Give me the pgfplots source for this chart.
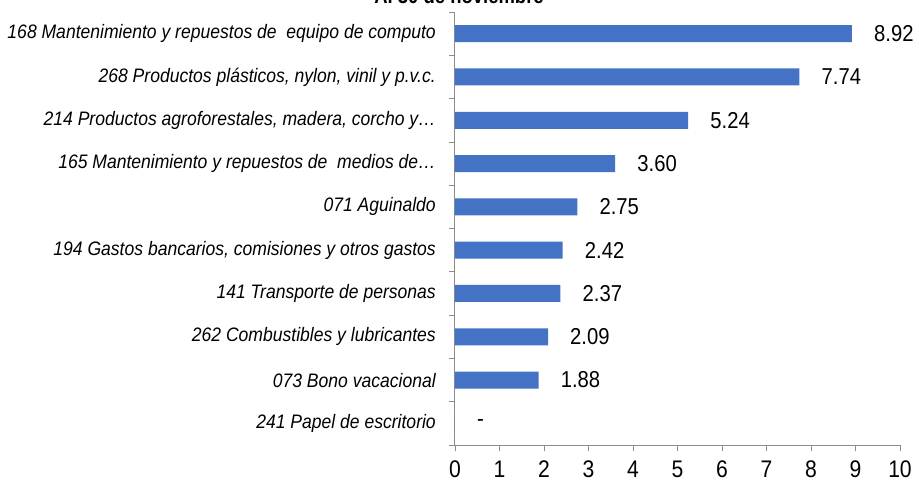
\documentclass[border=0pt]{standalone}
\usepackage{fontspec}
\setmainfont{Liberation Sans}[FakeStretch=0.88]
\newfontfamily\catfont{Liberation Sans}[FakeStretch=0.9]
\usepackage{pgfplots}
\pgfplotsset{compat=1.18}
\definecolor{barblue}{RGB}{68,114,196}
\begin{document}
\begin{tikzpicture}[x=1pt,y=1pt]
\clip (0,0) rectangle (919,491);
\path[fill=white] (0,0) rectangle (919,491);
\node[anchor=base, font=\bfseries\fontsize{21}{25}\selectfont] at (459,487) {Al 30 de noviembre};
\begin{axis}[
  at={(455pt,46pt)}, anchor=south west,
  width=445pt, height=433pt, scale only axis,
  xbar, bar width=17pt,
  xmin=0, xmax=10, ymin=-0.5, ymax=9.5,
  axis x line*=bottom, axis y line*=left,
  axis line style={draw=gray!90, -, line width=1pt},
  tick align=outside,
  tick style={draw=gray!90, line width=0.8pt},
  major tick length=6pt,
  xtick={0,...,10},
  /pgf/number format/assume math mode=true,
  xticklabel style={font=\fontsize{24}{28}\selectfont, inner sep=0pt, yshift=-10pt},
  ytick={-0.5,0.5,...,9.5},
  yticklabels={},
  extra y ticks={0,...,9},
  extra y tick labels={241 Papel de escritorio, 073 Bono vacacional, 262 Combustibles y lubricantes, 141 Transporte de personas, {194 Gastos bancarios, comisiones y otros gastos}, 071 Aguinaldo, {165 Mantenimiento y repuestos de\ \ medios de\dots}, {214 Productos agroforestales, madera, corcho y\dots}, {268 Productos plásticos, nylon, vinil y p.v.c.}, 168 Mantenimiento y repuestos de\ \ equipo de computo},
  extra y tick style={major tick length=0pt, yticklabel style={font=\catfont\itshape\fontsize{19.5}{23}\selectfont, inner sep=0pt, xshift=-19pt}},
  nodes near coords,
  point meta=explicit symbolic,
  nodes near coords style={font=\fontsize{23}{27}\selectfont, anchor=west, inner sep=0pt, xshift=22pt, text=black},
  clip=false,
]
\addplot[fill=barblue, draw=none] table[x=v, y=i, meta=l] {
i v l
9 8.92 8.92
8 7.74 7.74
7 5.24 5.24
6 3.60 3.60
5 2.75 2.75
4 2.42 2.42
3 2.37 2.37
2 2.09 2.09
1 1.88 1.88
0 0 -
};
\end{axis}
\end{tikzpicture}
\end{document}
